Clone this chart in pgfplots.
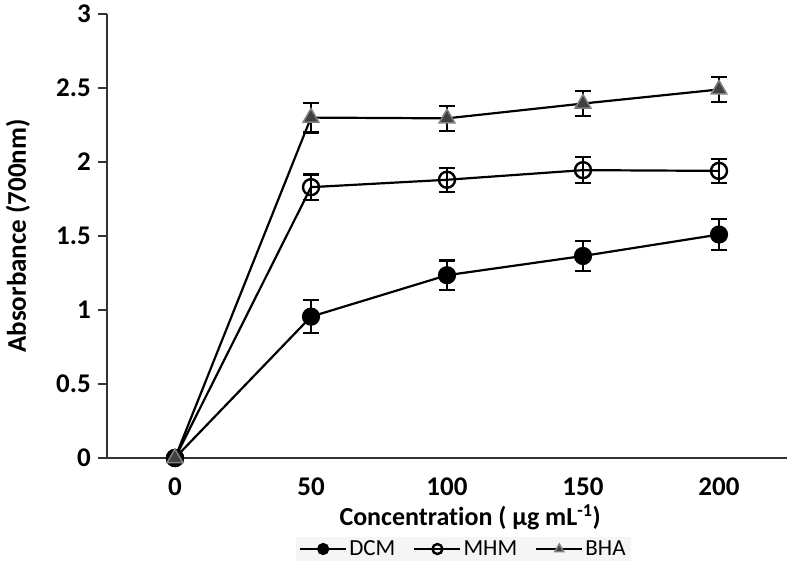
\documentclass[border=0pt]{standalone}
\usepackage{pgfplots}
\pgfplotsset{compat=1.18}
\usepackage{fontspec}
\setmainfont[Ligatures=NoCommon]{Carlito}
\begin{document}
\begin{tikzpicture}
\path[use as bounding box] (-107pt,-116pt) rectangle (685pt,458pt);
\begin{axis}[
  at={(0,0)}, anchor=south west,
  scale only axis, width=680pt, height=444pt,
  xmin=-0.5, xmax=4.5, ymin=0, ymax=3,
  axis lines*=left,
  axis line style={line width=2.6pt, black!80},
  xtick={0,1,2,3,4},
  xticklabels={0,50,100,150,200},
  ytick={0,0.5,1,1.5,2,2.5,3},
  yticklabels={0,0.5,1,1.5,2,2.5,3},
  /pgf/number format/assume math mode=true,
  x tick style={draw=none},
  y tick style={line width=2.4pt, black!80},
  tick align=outside,
  major tick length=9pt,
  ticklabel style={font=\fontsize{27}{30}\selectfont\bfseries, inner sep=1pt},
  xticklabel style={yshift=-10pt},
  yticklabel style={xshift=-6pt},
  xlabel={Concentration ( μg mL\textsuperscript{-1})},
  ylabel={Absorbance (700nm)},
  xlabel style={at={(axis description cs:0.534,-0.133)}, anchor=center, inner sep=1pt, font=\fontsize{26}{30}\selectfont\bfseries},
  ylabel style={at={(axis description cs:-0.131,0.5)}, anchor=center, font=\fontsize{27}{30}\selectfont\bfseries},
  legend style={at={(axis description cs:0.524,-0.205)}, anchor=center, legend columns=3, draw=none, fill=gray!8,
    font=\fontsize{23}{26}\selectfont, /tikz/every even column/.append style={column sep=16pt}},
  legend image code/.code={\draw[mark repeat=2,mark phase=2,#1,mark size=5pt] plot coordinates {(0pt,0pt)(23pt,0pt)(46pt,0pt)};},
  clip=false,
  error bars/y dir=both, error bars/y explicit,
  error bars/error bar style={line width=2.2pt, black},
  error bars/error mark options={rotate=90, mark size=8pt, line width=2.2pt, black},
]
\addplot[black, line width=2.2pt, mark=*, mark size=8pt, mark options={fill=black, draw=black, solid}]
  coordinates {(0,0) +- (0,0) (1,0.955) +- (0,0.11) (2,1.235) +- (0,0.10) (3,1.365) +- (0,0.10) (4,1.51) +- (0,0.105)};
\addlegendentry{DCM}
\addplot[black, line width=2.2pt, mark=o, mark size=8pt, mark options={fill=white, draw=black, line width=2.4pt, solid}]
  coordinates {(0,0) +- (0,0) (1,1.83) +- (0,0.085) (2,1.88) +- (0,0.08) (3,1.945) +- (0,0.088) (4,1.94) +- (0,0.082)};
\addlegendentry{MHM}
\addplot[black, line width=2.2pt, mark=triangle*, mark size=9pt, mark options={fill=black!75, draw=gray, line width=1.5pt, solid}]
  coordinates {(0,0) +- (0,0) (1,2.30) +- (0,0.10) (2,2.295) +- (0,0.085) (3,2.395) +- (0,0.083) (4,2.49) +- (0,0.084)};
\addlegendentry{BHA}
\end{axis}
\end{tikzpicture}
\end{document}
